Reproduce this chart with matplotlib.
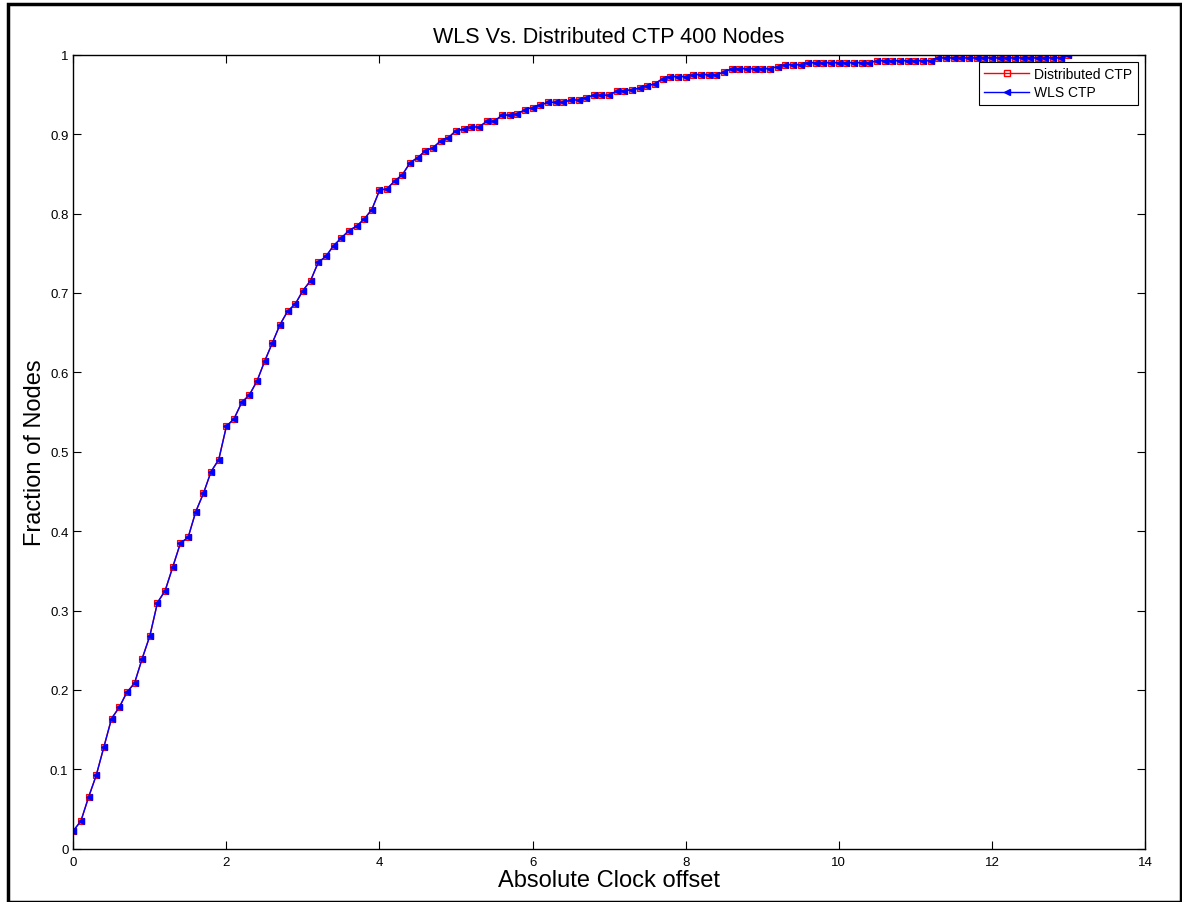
import matplotlib
matplotlib.use('Agg')
import matplotlib.pyplot as plt
import numpy as np
from matplotlib.patches import Rectangle

plt.rcParams['font.family'] = ['Liberation Sans', 'DejaVu Sans']

# absolute clock offset, sampled every 0.1 from 0 to 13
offset = np.round(np.arange(0, 13.01, 0.1), 1)

# fraction of nodes (CDF)
frac = [0.0225, 0.035, 0.065, 0.0925, 0.128, 0.164, 0.178, 0.197, 0.2085, 0.2395,
        0.268, 0.31, 0.325, 0.355, 0.385, 0.392, 0.4245, 0.4475, 0.475, 0.49,
        0.532, 0.5415, 0.562, 0.5715, 0.589, 0.614, 0.637, 0.66, 0.677, 0.686,
        0.703, 0.7155, 0.7385, 0.746, 0.7595, 0.769, 0.7785, 0.784, 0.793, 0.805,
        0.829, 0.8315, 0.841, 0.849, 0.864, 0.8705, 0.879, 0.883, 0.8915, 0.8955,
        0.9045, 0.906, 0.909, 0.909, 0.916, 0.916, 0.924, 0.924, 0.925, 0.931,
        0.9335, 0.9365, 0.94, 0.94, 0.94, 0.943, 0.943, 0.946, 0.949, 0.949,
        0.949, 0.9545, 0.9545, 0.956, 0.958, 0.961, 0.9635, 0.97, 0.9725, 0.9725,
        0.9725, 0.975, 0.975, 0.975, 0.975, 0.978, 0.9825, 0.9825, 0.9825, 0.9825,
        0.9825, 0.9825, 0.985, 0.9875, 0.9875, 0.9875, 0.99, 0.99, 0.99, 0.99,
        0.99, 0.99, 0.99, 0.99, 0.99, 0.9925, 0.9925, 0.9925, 0.9925, 0.9925,
        0.9925, 0.9925, 0.9925, 0.996, 0.996, 0.996, 0.996, 0.996, 0.996, 0.996,
        0.996, 0.996, 0.996, 0.996, 0.996, 0.996, 0.996, 0.996, 0.996, 0.996,
        1.0]

dist_ctp = frac
wls_ctp = frac

fig = plt.figure(figsize=(11.82, 9.03), dpi=100)
ax = fig.add_axes([0.062, 0.059, 0.9067, 0.8793])

ax.plot(offset, dist_ctp, '-s', color='red', lw=1.0, markersize=4,
        markerfacecolor='#ff6060', markeredgecolor='red', markeredgewidth=0.8,
        label='Distributed CTP')
ax.plot(offset, wls_ctp, '-<', color='blue', lw=1.0, markersize=4,
        markerfacecolor='blue', markeredgecolor='blue',
        label='WLS CTP')

ax.set_xlim(0, 14)
ax.set_ylim(0, 1)
ax.set_xticks(np.arange(0, 15, 2))
ax.set_yticks(np.arange(0, 1.01, 0.1))
ax.set_yticklabels(['0', '0.1', '0.2', '0.3', '0.4', '0.5', '0.6', '0.7', '0.8', '0.9', '1'])
ax.tick_params(direction='in', top=True, right=True, labelsize=9.5, length=6, width=0.8)
ax.tick_params(axis='x', pad=5)
for s in ax.spines.values():
    s.set_linewidth(1.0)

ax.set_title('WLS Vs. Distributed CTP 400 Nodes', fontsize=15.5, pad=9)
ax.set_xlabel('Absolute Clock offset', fontsize=17, labelpad=1)
ax.set_ylabel('Fraction of Nodes', fontsize=17, labelpad=3)

# legend: red hollow square / blue triangle like the original
from matplotlib.lines import Line2D
handles = [Line2D([], [], color='red', lw=1.0, marker='s', markersize=4,
                  markerfacecolor='none', markeredgecolor='red'),
           Line2D([], [], color='blue', lw=1.0, marker='<', markersize=4,
                  markerfacecolor='blue', markeredgecolor='blue')]
leg = ax.legend(handles, ['Distributed CTP', 'WLS CTP'], loc='upper right', fontsize=10,
                fancybox=False, edgecolor='black', framealpha=1, borderaxespad=0.5,
                handlelength=3.2, handletextpad=0.4, borderpad=0.4, labelspacing=0.3)
leg.get_frame().set_linewidth(0.8)

# outer border around the figure
fig.patches.append(Rectangle((0.007, 0.0), 0.992, 0.994, transform=fig.transFigure,
                             fill=False, edgecolor='black', lw=2.5))

fig.savefig('out.png', dpi=100)
